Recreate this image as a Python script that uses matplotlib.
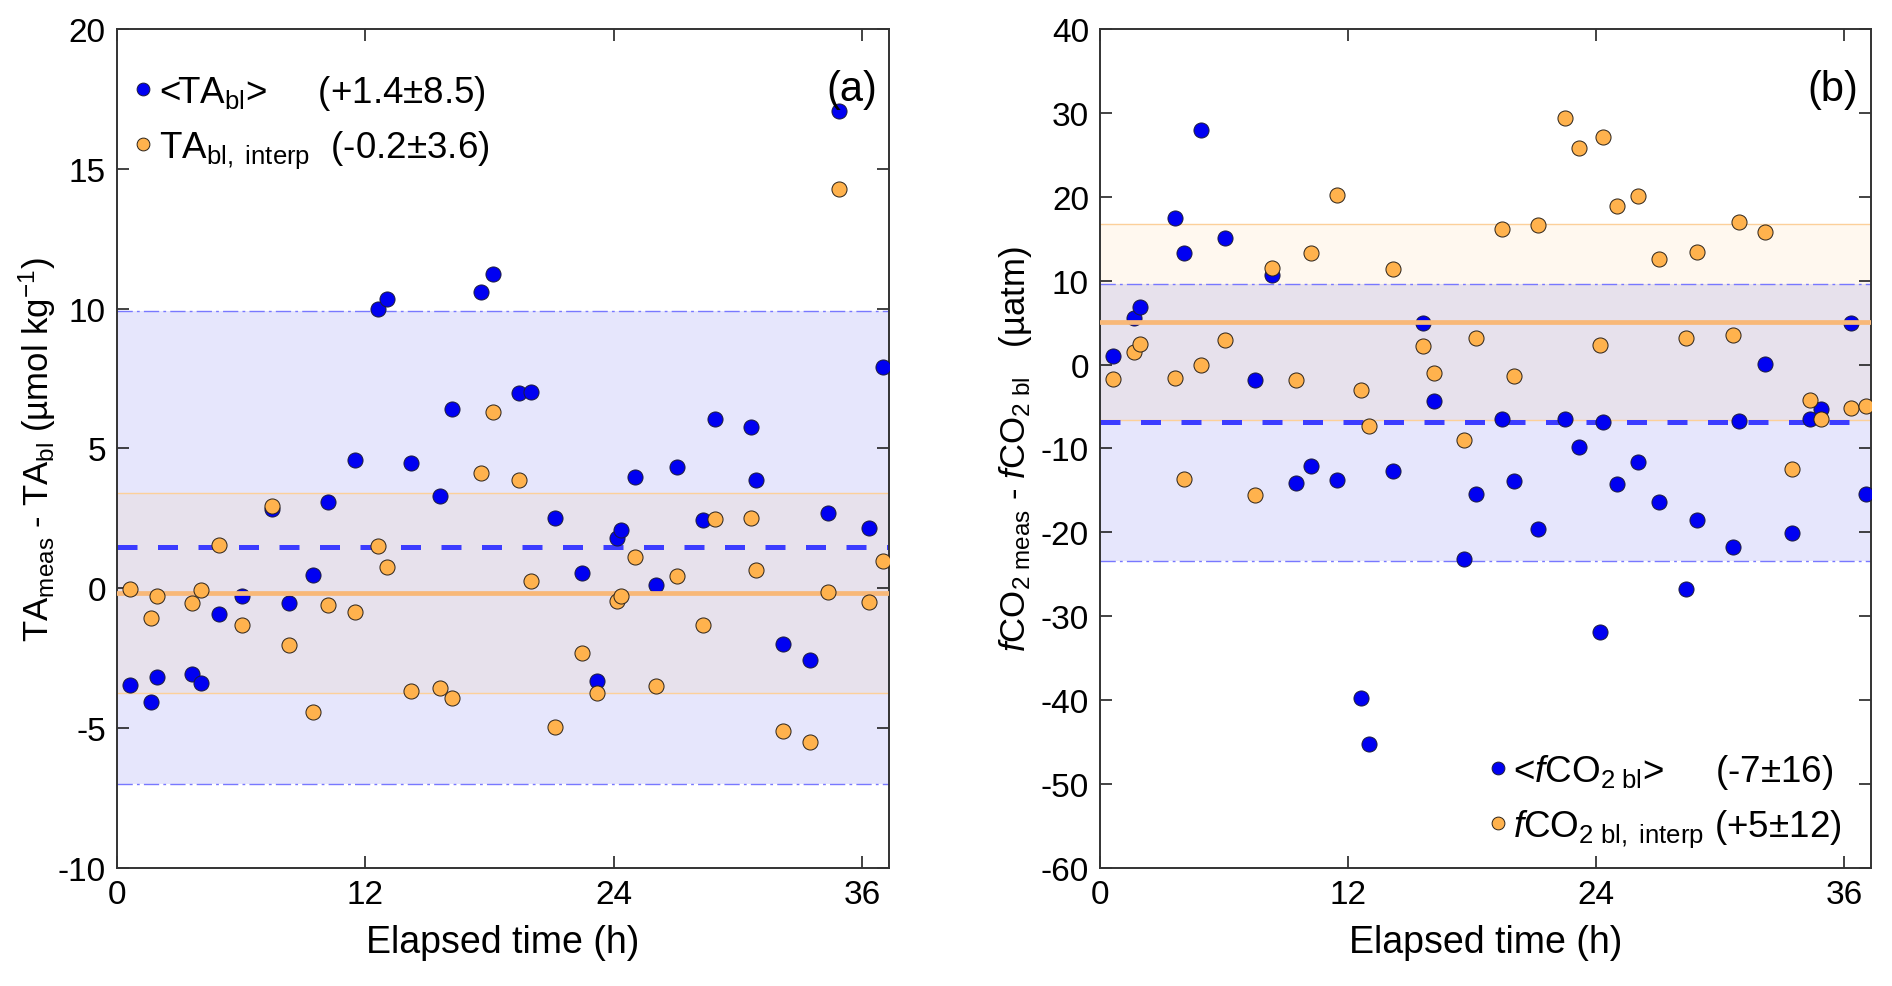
import matplotlib
matplotlib.use("Agg")
import matplotlib.pyplot as plt
from matplotlib.lines import Line2D

plt.rcParams['font.family'] = ['Liberation Sans', 'DejaVu Sans']
plt.rcParams['mathtext.fontset'] = 'custom'
plt.rcParams['mathtext.rm'] = 'Liberation Sans'
plt.rcParams['mathtext.it'] = 'Liberation Sans:italic'
plt.rcParams['mathtext.default'] = 'regular'
plt.rcParams['axes.unicode_minus'] = False

# elapsed time of each sample (h), same for both panels
elapsed_h = [0.64, 1.64, 1.92, 3.64, 4.05, 4.91, 6.05, 7.48, 8.32, 9.48, 10.2, 11.48,
             12.63, 13.03, 14.19, 15.62, 16.18, 17.6, 18.17, 19.45, 20.02, 21.18,
             22.48, 23.18, 24.18, 24.35, 25.02, 26.05, 27.05, 28.33, 28.9, 30.63,
             30.9, 32.18, 33.48, 34.34, 34.9, 36.35, 37.04]

# panel (a): TA_meas - TA_bl (umol/kg)
ta_mean_bl = [-3.47, -4.05, -3.16, -3.07, -3.4, -0.93, -0.29, 2.82, -0.53, 0.47, 3.09, 4.58,
              9.98, 10.35, 4.49, 3.31, 6.42, 10.6, 11.25, 7.0, 7.02, 2.53,
              0.56, -3.33, 1.8, 2.07, 3.98, 0.13, 4.33, 2.44, 6.04, 5.78,
              3.87, -2.0, -2.56, 2.71, 17.07, 2.15, 7.93]
ta_interp_bl = [-0.02, -1.05, -0.27, -0.51, -0.05, 1.56, -1.31, 2.96, -2.04, -4.44, -0.6, -0.85,
                1.53, 0.75, -3.67, -3.55, -3.91, 4.13, 6.29, 3.87, 0.25, -4.95,
                -2.33, -3.75, -0.45, -0.29, 1.11, -3.51, 0.44, -1.31, 2.49, 2.53,
                0.65, -5.09, -5.51, -0.15, 14.27, -0.49, 0.96]
ta_stats = {'mean': (1.46, -0.18), 'sd': (8.45, 3.58)}

# panel (b): fCO2_meas - fCO2_bl (uatm)
fco2_mean_bl = [0.97, 5.59, 6.87, 17.44, 13.3, 27.95, 15.13, -1.88, 10.69, -14.16, -12.09, -13.79,
                -39.79, -45.26, -12.7, 4.98, -4.31, -23.15, -15.37, -6.44, -13.91, -19.62,
                -6.44, -9.78, -31.83, -6.87, -14.22, -11.6, -16.4, -26.73, -18.53, -21.75,
                -6.74, 0.06, -20.05, -6.44, -5.35, 4.92, -15.37]
fco2_interp_bl = [-1.76, 1.52, 2.49, -1.58, -13.67, 0.0, 2.98, -15.49, 11.48, -1.82, 13.3, 20.23,
                  -2.98, -7.35, 11.36, 2.19, -1.03, -8.99, 3.22, 16.16, -1.34, 16.59,
                  29.34, 25.76, 2.31, 27.16, 18.89, 20.11, 12.64, 3.16, 13.37, 3.58,
                  16.95, 15.8, -12.39, -4.19, -6.5, -5.22, -4.98]
fco2_stats = {'mean': (-6.9, 5.1), 'sd': (16.5, 11.67)}

blue = '#0000f2'
orange = '#ffb24d'


def draw_panel(ax, y_blue, y_orange, stats, ylim, yticks):
    mb, mo = stats['mean']
    sb, so = stats['sd']
    ax.axhspan(mb - sb, mb + sb, color='#e6e6fc', lw=0, zorder=0)
    ax.axhspan(mo - so, mo + so, color='#ffaa3c', alpha=0.08, lw=0, zorder=0.5)
    for yy in (mb - sb, mb + sb):
        ax.axhline(yy, color='#7878ff', lw=1.0, dashes=(11, 3, 2, 3), zorder=1)
    for yy in (mo - so, mo + so):
        ax.axhline(yy, color='#fcd09a', lw=1.0, zorder=1)
    ax.axhline(mb, color='#3c3cff', lw=3.6, linestyle=(0, (4.0, 4.1)), zorder=2)
    ax.scatter(elapsed_h, y_blue, s=118, color=blue, edgecolors='#1c1c3c',
               linewidths=0.7, zorder=3)
    ax.axhline(mo, color='#f8b878', lw=3.4, zorder=4)
    ax.scatter(elapsed_h, y_orange, s=118, color=orange, edgecolors='#2a2118',
               linewidths=0.7, zorder=5)
    ax.set_xlim(0, 37.3)
    ax.set_ylim(*ylim)
    ax.set_xticks([0, 12, 24, 36])
    ax.set_yticks(yticks)
    ax.tick_params(direction='in', length=8.6, width=1.2, top=True, right=True,
                   labelsize=24, pad=8, color='#222222')
    for sp in ax.spines.values():
        sp.set_color('#333333')
        sp.set_linewidth(1.4)
    ax.set_xlabel('Elapsed time (h)', fontsize=27, labelpad=10)


fig = plt.figure(figsize=(18.92, 9.87), dpi=100)
ax1 = fig.add_axes([0.0618, 0.1196, 0.408, 0.850])
ax2 = fig.add_axes([0.5814, 0.1196, 0.4075, 0.850])

draw_panel(ax1, ta_mean_bl, ta_interp_bl, ta_stats, (-10, 20), range(-10, 21, 5))
draw_panel(ax2, fco2_mean_bl, fco2_interp_bl, fco2_stats, (-60, 40), range(-60, 41, 10))

ax1.set_ylabel(r'TA$_{meas}$ - TA$_{bl}$ (µmol kg$^{-1}$)', fontsize=25, labelpad=0)
ax2.set_ylabel(r'$\it{f}$CO$_{2\ meas}$ - $\it{f}$CO$_{2\ bl}$   (µatm)', fontsize=25,
               labelpad=5)

ax1.text(0.9845, 0.928, '(a)', transform=ax1.transAxes, fontsize=30, ha='right', va='center')
ax2.text(0.983, 0.928, '(b)', transform=ax2.transAxes, fontsize=30, ha='right', va='center')


def handles():
    return [Line2D([], [], ls='none', marker='o', ms=9.2, mfc=blue, mec='#1c1c3c', mew=0.7),
            Line2D([], [], ls='none', marker='o', ms=9.2, mfc=orange, mec='#2a2118', mew=0.7)]


ax1.legend(handles(), [r'<TA$_{bl}$>     (+1.4±8.5)', r'TA$_{bl,\ interp}$  (-0.2±3.6)'],
           loc='upper left', bbox_to_anchor=(0.001, 0.9647), frameon=False, fontsize=26.5,
           handlelength=0.6, handletextpad=0.12, labelspacing=0.45, borderaxespad=0)
ax2.legend(handles(), [r'<$\it{f}$CO$_{2\ bl}$>     (-7±16)', r'$\it{f}$CO$_{2\ bl,\ interp}$ (+5±12)'],
           loc='lower right', bbox_to_anchor=(0.9813, 0.0052), frameon=False, fontsize=26.5,
           handlelength=0.6, handletextpad=0.12, labelspacing=0.45, borderaxespad=0)

fig.savefig('out.png', dpi=100)
